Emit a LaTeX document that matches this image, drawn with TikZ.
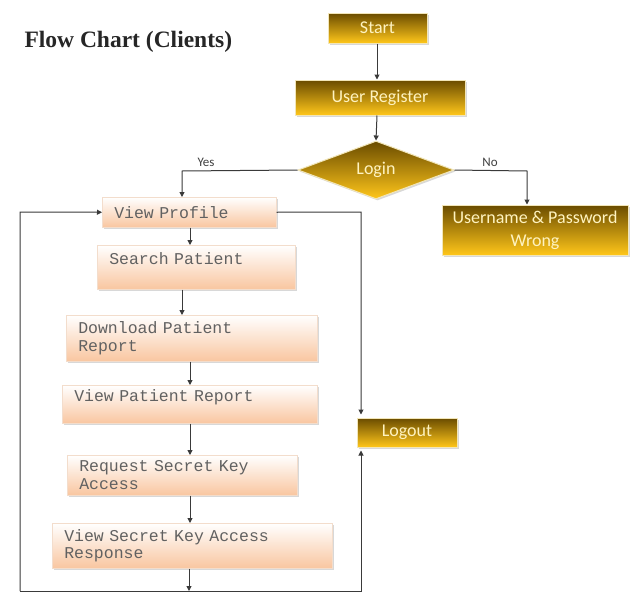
\documentclass[tikz,border=0pt]{standalone}
\usepackage{fontspec}
\setmainfont{Liberation Serif}
\setmonofont{Liberation Mono}
\newfontfamily\goldfnt{Carlito}
\usetikzlibrary{shapes.geometric,shadows,arrows.meta,calc}
\definecolor{golddark}{HTML}{6A4C00}
\definecolor{goldmid}{HTML}{C99A00}
\definecolor{goldlight}{HTML}{FFC61A}
\definecolor{goldedge}{HTML}{F2E6B8}
\definecolor{goldtext}{HTML}{FFF3C0}
\definecolor{peachtop}{HTML}{FFFFFF}
\definecolor{peachbot}{HTML}{F9C6A0}
\definecolor{peachedge}{HTML}{F3DDCC}
\definecolor{linecol}{HTML}{3A3A3A}
\newcommand{\boxmono}{\ttfamily\fontsize{16.5}{17.5}\selectfont}
\tikzset{
  goldbox/.style={draw=goldedge, line width=1pt, top color=golddark, middle color=goldmid, bottom color=goldlight,
    text=goldtext, font=\goldfnt\fontsize{18}{20}\selectfont, align=center, inner sep=2pt,
    drop shadow={opacity=0.3, shadow xshift=1.5pt, shadow yshift=-1.5pt}},
  peachbox/.style={draw=peachedge, line width=0.5pt, top color=peachtop, bottom color=peachbot,
    font=\boxmono, align=left, text=black!62, inner xsep=12pt, inner ysep=2pt,
    anchor=north west, drop shadow={opacity=0.3, shadow xshift=1.5pt, shadow yshift=-1.5pt}},
  conn/.style={draw=linecol, line width=1pt},
  arr/.style={conn, -{Triangle[length=5pt,width=5pt]}},
  lbl/.style={font=\goldfnt\fontsize{13}{15}\selectfont, text=black!75},
}
\begin{document}
\begin{tikzpicture}[x=1pt,y=-1pt]
\useasboundingbox (0,0) rectangle (633,592);
\fill[white] (0,0) rectangle (633,592);

\node[font=\bfseries\fontsize{23.5}{27}\selectfont, anchor=base west, text=black!85] (title) at (21,47) {Flow Chart (Clients)};

% gold nodes
\node[goldbox, minimum width=99pt, minimum height=30pt] (start) at (377.5,28) {Start};
\node[goldbox, minimum width=170pt, minimum height=35pt] (reg) at (380,97.5) {User Register};
\node[goldbox, diamond, aspect=3, minimum width=156pt, minimum height=58pt, inner sep=0pt] (login) at (376,170) {Login};
\node[goldbox, minimum width=186pt, minimum height=50pt, font=\goldfnt\fontsize{18}{23}\selectfont] (wrong) at (535,230) {Username \& Password\\Wrong};
\node[goldbox, minimum width=100pt, minimum height=29pt] (logout) at (407,432.5) {Logout};

% peach nodes (anchored north west)
\node[peachbox, minimum width=174pt, minimum height=30pt, text width=150pt] (vp) at (102,197) {View Profile};
\node[peachbox, minimum width=198pt, minimum height=44pt, text width=174pt] (sp) at (97,245) {Search Patient\\~};
\node[peachbox, minimum width=251pt, minimum height=46pt, text width=227pt] (dl) at (66,315) {Download Patient\\Report};
\node[peachbox, minimum width=255pt, minimum height=38pt, text width=231pt] (vpr) at (62,385) {View Patient Report\\~};
\node[peachbox, minimum width=230pt, minimum height=40pt, text width=206pt] (rq) at (67,455) {Request Secret Key\\Access};
\node[peachbox, minimum width=280pt, minimum height=45pt, text width=256pt] (vs) at (52,523) {View Secret Key Access\\Response};

% loop coordinates
\coordinate (bl) at (20,591);
\coordinate (br) at (361,591);
\coordinate (tl) at (20,212);
\coordinate (tr) at (361,212);
\coordinate (vsend) at (189,591);
\coordinate (yesc) at (182,171);
\coordinate (noc) at (527,171);

% top flow
\draw[arr] (start.south -| 377,0) -- (reg.north -| 377,0);
\draw[arr] (reg.south -| 377,0) -- (login.north);
\draw[arr] (login.west) -- (yesc) -- (vp.north -| yesc);
\draw[arr] (login.east) -- (noc) -- (wrong.north -| noc);
\node[lbl, anchor=south] (yes) at (206,170) {Yes};
\node[lbl, anchor=south] (no) at (490,170) {No};

% column flow
\draw[arr] (vp.south -| 190,0) -- (sp.north -| 190,0);
\draw[arr] (sp.south -| 182,0) -- (dl.north -| 182,0);
\draw[arr] (dl.south -| 190,0) -- (vpr.north -| 190,0);
\draw[arr] (vpr.south -| 190,0) -- (rq.north -| 190,0);
\draw[arr] (rq.south -| 190,0) -- (vs.north -| 190,0);
\draw[arr] (vs.south -| vsend) -- (vsend);

% loop back and logout
\draw[arr] (bl) -- (tl) -- (vp.west);
\draw[arr, shorten >=3pt] (bl) -- (br) -- (logout.south -| br);
\draw[arr, shorten >=3pt] (vp.east) -- (tr) -- (logout.north -| tr);
\end{tikzpicture}
\end{document}
